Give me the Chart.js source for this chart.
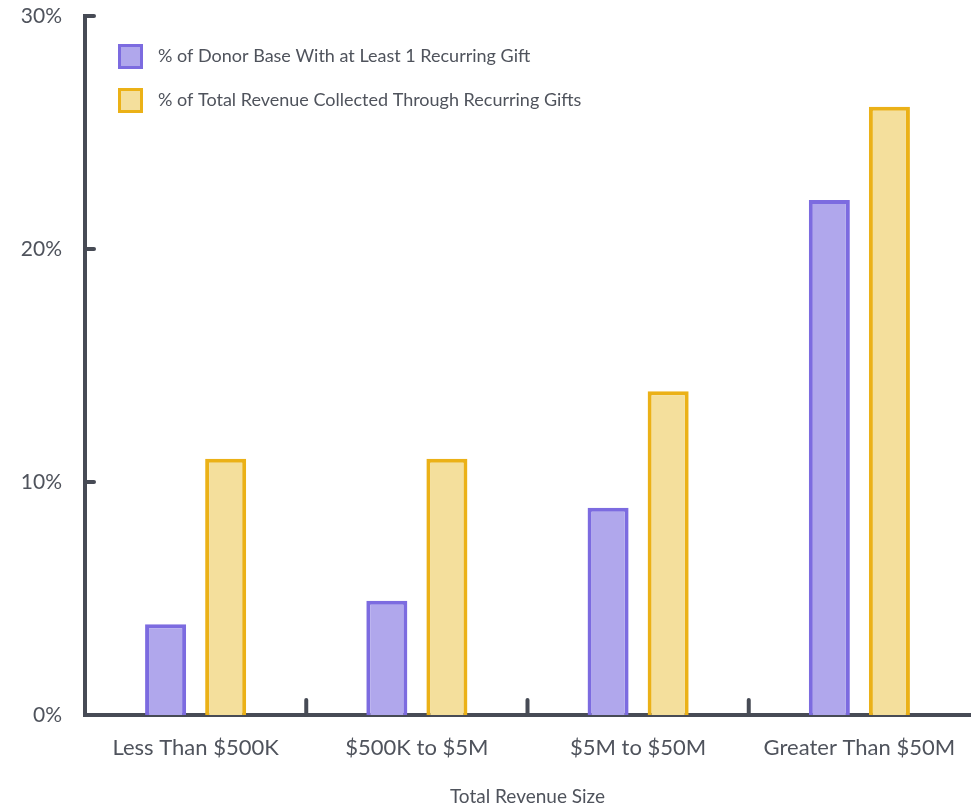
<!DOCTYPE html>
<html>
<head>
<meta charset="utf-8">
<script src="https://cdn.jsdelivr.net/npm/chart.js@4"></script>
<style>
  html, body { margin: 0; padding: 0; background: #fff; }
  #wrap { width: 977px; height: 808px; }
</style>
</head>
<body>
<div id="wrap"><canvas id="recurring_chart" width="977" height="808"></canvas></div>
<script>
// revenue size buckets
const categories = ['Less Than $500K', '$500K to $5M', '$5M to $50M', 'Greater Than $50M'];
const donorBase = [3.9, 4.9, 8.9, 22.1];
const revenueShare = [11.0, 11.0, 13.9, 26.1];
const seriesLabels = [
  '% of Donor Base With at Least 1 Recurring Gift',
  '% of Total Revenue Collected Through Recurring Gifts',
];
const yTicks = [0, 10, 20, 30];

const axisColor = '#474b55';
const textColor = '#4f535c';
const fontFamily = 'Lato, "Open Sans", sans-serif';

// inward tick marks + legend drawn on top of the chart
const decorations = {
  id: 'decorations',
  afterDraw(chart) {
    const ctx = chart.ctx;
    const x = chart.scales.x;
    const y = chart.scales.y;
    ctx.save();
    ctx.strokeStyle = axisColor;
    ctx.lineWidth = 4;
    ctx.lineCap = 'round';
    // y ticks pointing right
    yTicks.forEach(v => {
      if (v === 0) return;
      const py = y.getPixelForValue(v);
      ctx.beginPath();
      ctx.moveTo(x.left, py);
      ctx.lineTo(x.left + 9, py);
      ctx.stroke();
    });
    // x ticks between categories, pointing up
    for (let i = 0; i < categories.length - 1; i++) {
      const px = (x.getPixelForValue(i) + x.getPixelForValue(i + 1)) / 2;
      ctx.beginPath();
      ctx.moveTo(px, y.bottom);
      ctx.lineTo(px, y.bottom - 15);
      ctx.stroke();
    }
    // legend
    const ds = chart.data.datasets;
    ds.forEach((d, i) => {
      const top = 44 + i * 44;
      ctx.fillStyle = d.backgroundColor;
      ctx.fillRect(118, top, 25, 25);
      ctx.strokeStyle = d.borderColor;
      ctx.lineWidth = 3;
      ctx.lineCap = 'butt';
      ctx.strokeRect(119.5, top + 1.5, 22, 22);
      ctx.fillStyle = textColor;
      ctx.font = '18px ' + fontFamily;
      ctx.textBaseline = 'middle';
      ctx.textAlign = 'left';
      ctx.fillText(d.label, 158, top + 12);
    });
    ctx.restore();
  }
};

const recurring_chart = new Chart(document.getElementById('recurring_chart'), {
  type: 'bar',
  data: {
    labels: categories,
    datasets: [{
      label: seriesLabels[0],
      data: donorBase,
      backgroundColor: '#b0a7ec',
      borderColor: '#7c6be0',
      borderWidth: 4,
      borderSkipped: 'bottom',
    }, {
      label: seriesLabels[1],
      data: revenueShare,
      backgroundColor: '#f4df9c',
      borderColor: '#ebb117',
      borderWidth: 4,
      borderSkipped: 'bottom',
    }]
  },
  options: {
    responsive: false,
    animation: false,
    devicePixelRatio: 1,
    categoryPercentage: 0.543,
    barPercentage: 0.683,
    layout: { padding: { top: 16, right: 7, left: 0, bottom: 0 } },
    plugins: {
      legend: { display: false },
      tooltip: { enabled: false },
    },
    scales: {
      x: {
        grid: { display: false, drawTicks: false },
        border: { display: true, color: axisColor, width: 4 },
        ticks: {
          color: textColor,
          font: { family: fontFamily, size: 22 },
          padding: 20,
          maxRotation: 0,
        },
        title: {
          display: true,
          text: 'Total Revenue Size',
          color: textColor,
          font: { family: fontFamily, size: 19 },
          padding: { top: 22, bottom: 0 },
        },
        afterFit(scale) {
          scale.height = 93;
          scale.paddingLeft = 0;
          scale.paddingRight = 0;
        },
      },
      y: {
        min: 0,
        max: 30,
        grid: { display: false, drawTicks: false },
        border: { display: true, color: axisColor, width: 4 },
        ticks: {
          stepSize: 10,
          color: textColor,
          font: { family: fontFamily, size: 21 },
          padding: 23,
          callback: v => v + '%',
        },
        afterFit(scale) {
          scale.width = 85;
          scale.paddingTop = 0;
          scale.paddingBottom = 0;
        },
      }
    }
  },
  plugins: [decorations]
});
</script>
</body>
</html>
